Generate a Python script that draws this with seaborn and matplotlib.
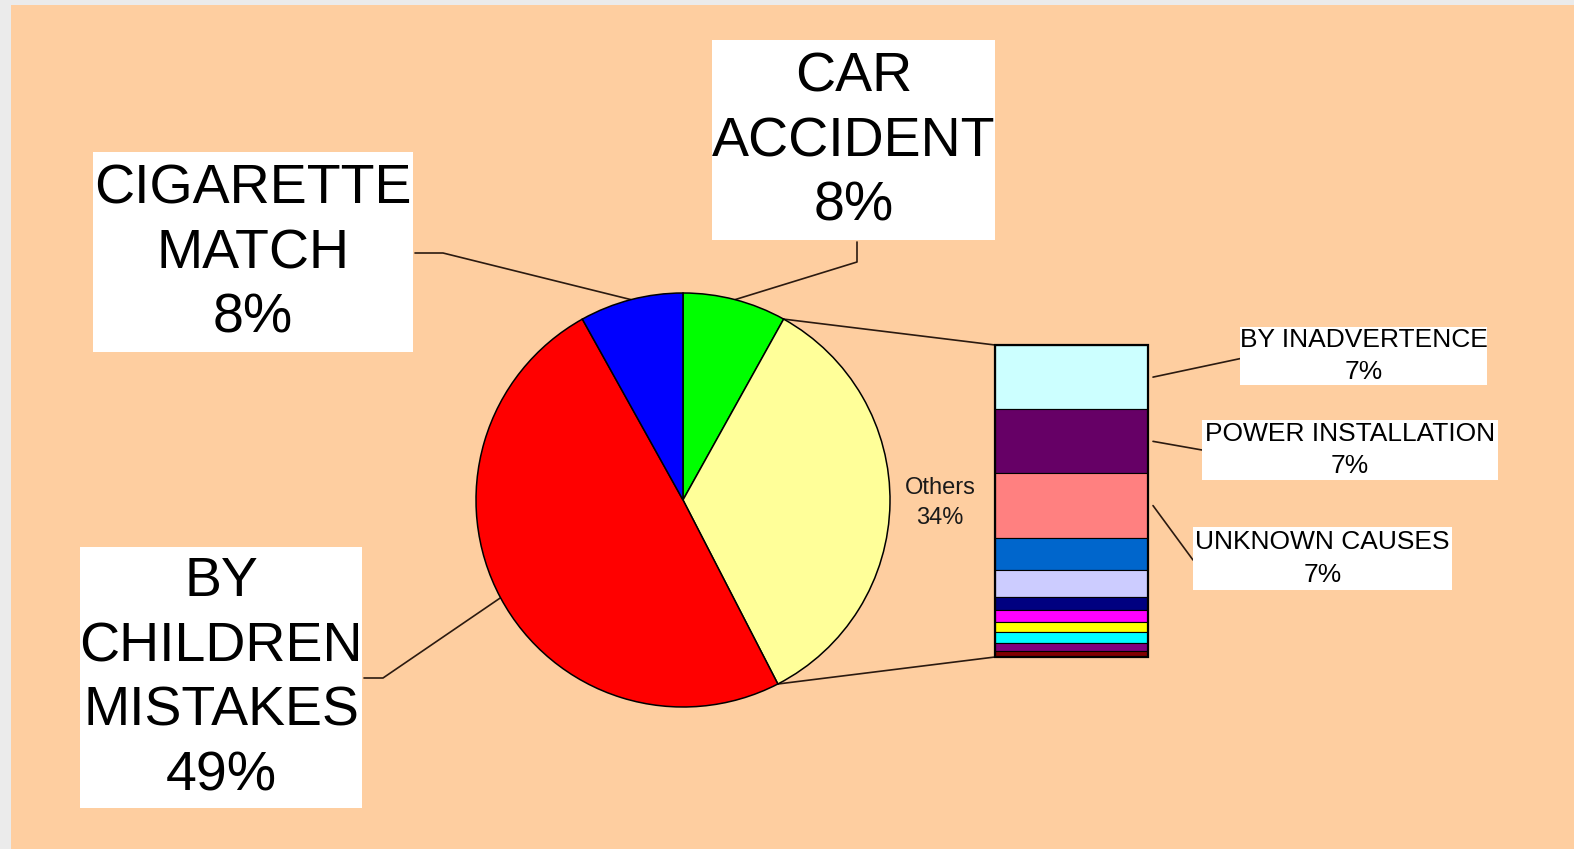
"""Causes of fires: pie with an "Others" slice broken out into a stacked bar."""
import matplotlib.pyplot as plt
import numpy as np
import seaborn as sns
from matplotlib.patches import Rectangle

W, H = 1574, 849
PEACH = "#FECEA0"
LINE = "#2b1a10"

# main pie
main_labels = ["CAR\nACCIDENT", "Others", "BY\nCHILDREN\nMISTAKES", "CIGARETTE\nMATCH"]
main_pct = [8, 34, 49, 8]
main_colors = ["#00FF00", "#FFFF99", "#FF0000", "#0000FF"]

# breakdown of "Others" (top to bottom)
other_labels = ["BY INADVERTENCE", "POWER INSTALLATION", "UNKNOWN CAUSES"]
other_pct = [7, 7, 7, 3.5, 3, 1.4, 1.3, 1.1, 1.2, 0.8, 0.7]
other_colors = ["#CCFFFF", "#660066", "#FF8080", "#0066CC", "#CCCCFF", "#000080",
                "#FF00FF", "#FFFF00", "#00FFFF", "#800080", "#800000"]

sns.set_theme(style="white")
plt.rcParams["font.family"] = ["Liberation Sans", "DejaVu Sans"]


def fig_rect(left, top, right, bottom):
    return [left / W, 1 - bottom / H, (right - left) / W, (bottom - top) / H]


fig = plt.figure(figsize=(W / 100, H / 100), dpi=100, facecolor="#EBEBEB")
ax_bg = fig.add_axes([0, 0, 1, 1])
ax_bg.set_xlim(0, W)
ax_bg.set_ylim(H, 0)
ax_bg.axis("off")
ax_bg.add_patch(Rectangle((11, 5), W - 11, H - 5, facecolor=PEACH, edgecolor="none", zorder=0))


def to_bg(ax, xy):
    disp = ax.transData.transform(xy)
    return ax_bg.transData.inverted().transform(disp)


# pie
cx, cy, r = 683, 500, 207
half = r * 1.02
ax_pie = fig.add_axes(fig_rect(cx - half, cy - half, cx + half, cy + half))
ax_pie.pie(main_pct, colors=main_colors, startangle=90, counterclock=False,
           wedgeprops=dict(edgecolor="black", linewidth=1.1))
ax_pie.set_xlim(-1.02, 1.02)
ax_pie.set_ylim(-1.02, 1.02)
ax_pie.set_aspect("auto")
ax_pie.set_facecolor("none")

total = sum(main_pct)
cum = np.concatenate([[0], np.cumsum(main_pct)]) / total


def pie_point(frac):
    a = np.deg2rad(90 - 360 * frac)
    return (np.cos(a), np.sin(a))


# stacked bar for "Others"
ax_bar = fig.add_axes(fig_rect(995, 345, 1148, 657))
other_total = sum(other_pct)
bottoms = np.concatenate([[0], np.cumsum(other_pct)[:-1]])
ax_bar.bar(0, other_pct, bottom=bottoms, width=1, color=other_colors,
           edgecolor="black", linewidth=0.8)
ax_bar.add_patch(Rectangle((-0.5, 0), 1, other_total, fill=False, edgecolor="black",
                           linewidth=1.6, clip_on=False))
ax_bar.set_xlim(-0.5, 0.5)
ax_bar.set_ylim(other_total, 0)
ax_bar.axis("off")
ax_bar.set_facecolor("none")

# lines from the Others slice to the bar
for frac, yb in [(cum[1], 0), (cum[2], other_total)]:
    p = to_bg(ax_pie, pie_point(frac))
    q = to_bg(ax_bar, (-0.5, yb))
    ax_bg.plot([p[0], q[0]], [p[1], q[1]], color=LINE, lw=1.2, zorder=1)

# main labels: boxes, text, leader lines (start, elbow)
big_boxes = {
    0: (712, 40, 995, 240),
    2: (80, 547, 362, 808),
    3: (93, 152, 413, 352),
}
big_leaders = {
    0: [(857, 242), (857, 262)],
    2: [(364, 678), (383, 678)],
    3: [(415, 253), (443, 253)],
}
for i, (l, t, rr, b) in big_boxes.items():
    ax_bg.add_patch(Rectangle((l, t), rr - l, b - t, facecolor="white", edgecolor="none", zorder=2))
    ax_bg.text((l + rr) / 2, (t + b) / 2 + 2, f"{main_labels[i]}\n{main_pct[i]}%",
               ha="center", va="center", fontsize=40, linespacing=1.32, color="black", zorder=3)
    mid = (cum[i] + cum[i + 1]) / 2
    p = to_bg(ax_pie, pie_point(mid))
    pts = big_leaders[i] + [tuple(p)]
    ax_bg.plot([x for x, _ in pts], [y for _, y in pts], color=LINE, lw=1.2, zorder=1)

ax_bg.text(940, 503, f"{main_labels[1]}\n{main_pct[1]}%", ha="center", va="center",
           fontsize=17, linespacing=1.5, color="#1a1a1a", zorder=3)

# small labels for the bar
small_boxes = [(1240, 327, 1487, 385), (1202, 420, 1498, 480), (1193, 527, 1452, 590)]
small_ends = [(1243, 358), (1202, 450), (1193, 560)]
for k, (l, t, rr, b) in enumerate(small_boxes):
    ax_bg.add_patch(Rectangle((l, t), rr - l, b - t, facecolor="white", edgecolor="none", zorder=2))
    ax_bg.text((l + rr) / 2, (t + b) / 2, f"{other_labels[k]}\n{other_pct[k]:.0f}%",
               ha="center", va="center", fontsize=19, linespacing=1.45, color="black", zorder=3)
    q = to_bg(ax_bar, (0.5, bottoms[k] + other_pct[k] / 2))
    ax_bg.plot([q[0] + 5, small_ends[k][0]], [q[1], small_ends[k][1]], color=LINE, lw=1.2, zorder=1)

fig.savefig("out.png", dpi=100, facecolor=fig.get_facecolor())
